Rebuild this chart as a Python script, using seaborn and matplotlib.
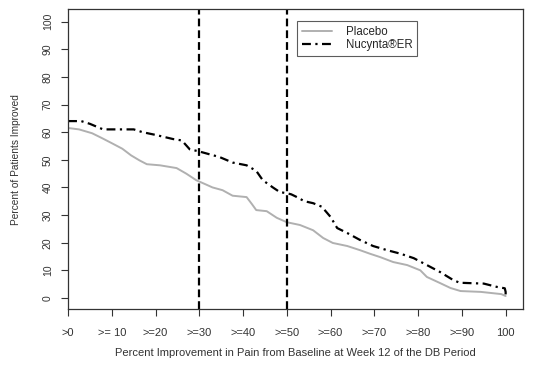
import pandas as pd
import matplotlib
matplotlib.use("Agg")
import matplotlib.pyplot as plt
import seaborn as sns

# Values (percent improvement vs percent of patients)
placebo_x = [0, 2.5, 5.5, 7.8, 10, 12.4, 14.4, 16.3, 18, 21, 24.8, 27, 29.3, 31.6,
             33, 35.3, 37.6, 40.8, 42, 43, 45.4, 47.7, 50, 53, 56, 58.3, 60.5, 63.8,
             66.7, 69, 71.3, 74.3, 77.5, 80.5, 82, 85, 87.4, 89.7, 94.3, 99, 100]
placebo_y = [61.5, 61, 59.6, 57.8, 56, 54, 51.6, 49.8, 48.4, 48, 47, 45, 42.6, 41,
             40, 39, 37, 36.5, 34, 31.8, 31.4, 29, 27.4, 26.4, 24.5, 21.7, 19.9,
             18.8, 17.3, 16, 14.8, 13, 11.9, 10, 7.6, 5.4, 3.6, 2.5, 2.2, 1.4, 0.7]

nucynta_x = [0, 3, 5, 6.5, 8, 15, 17, 20, 24, 26, 27.8, 30, 34.6, 37.6, 40.8, 43,
             44.5, 46.8, 48.4, 50, 51, 52.3, 54, 56, 58, 60, 61.5, 63.8, 66.7, 69.7,
             72.9, 76, 79, 82, 85, 88, 89.5, 91.3, 95, 98, 99.8, 100, 100]
nucynta_y = [64, 64, 63, 62, 61, 61, 60, 59, 57.5, 57, 53.8, 53, 51, 49, 48, 46,
             42.6, 40, 38.3, 37.9, 37.5, 36.5, 35, 34.3, 33, 29.3, 25.3, 23.5, 21,
             18.8, 17.3, 16, 14.4, 11.9, 9.4, 6.5, 5.5, 5.4, 5.2, 4, 3.5, 2.2, 0.8]

cutoffs = [30, 50]
x_ticks = [0, 10, 20, 30, 40, 50, 60, 70, 80, 90, 100]
x_tick_labels = [">0", ">= 10", ">=20", ">=30", ">=40", ">=50", ">=60", ">=70",
                 ">=80", ">=90", "100"]
y_ticks = [0, 10, 20, 30, 40, 50, 60, 70, 80, 90, 100]

df_p = pd.DataFrame({"x": placebo_x, "y": placebo_y})
df_n = pd.DataFrame({"x": nucynta_x, "y": nucynta_y})

sns.set_theme(style="white")
plt.rcParams['font.family'] = ['Liberation Sans', 'DejaVu Sans']

fig = plt.figure(figsize=(5.36, 3.67), dpi=100)
ax = fig.add_axes([0.127, 0.158, 0.849, 0.817])

sns.lineplot(data=df_p, x="x", y="y", ax=ax, color="#b0b0b0", linewidth=1.4,
             sort=False, estimator=None, label="Placebo")
sns.lineplot(data=df_n, x="x", y="y", ax=ax, color="black", linewidth=1.6,
             sort=False, estimator=None, linestyle=(0, (4, 2, 1, 2)),
             label="Nucynta\u00aeER")

for c in cutoffs:
    ax.axvline(c, color="black", linewidth=1.6, linestyle=(0, (3.5, 1.8)))

ax.set_xlim(0, 104)
ax.set_ylim(-4, 104.5)
ax.set_xticks(x_ticks)
ax.set_xticklabels(x_tick_labels, fontsize=8, color="#333333")
ax.set_yticks(y_ticks)
ax.set_yticklabels(y_ticks, fontsize=7.5, rotation=90, va="center", color="#333333")
ax.tick_params(axis="both", direction="out", length=5, width=0.8, color="#333333",
               bottom=True, left=True)
ax.tick_params(axis="x", pad=9)
ax.tick_params(axis="y", pad=6)
for s in ax.spines.values():
    s.set_color("#333333")
    s.set_linewidth(0.9)

ax.set_xlabel("Percent Improvement in Pain from Baseline at Week 12 of the DB Period",
              fontsize=8, color="#333333", labelpad=7)
ax.set_ylabel("Percent of Patients Improved", fontsize=7.3, color="#333333", labelpad=16)

leg = ax.legend(loc="upper left", bbox_to_anchor=(0.502, 0.96), fontsize=8.3,
                frameon=True, fancybox=False, edgecolor="#333333",
                handlelength=2.6, handletextpad=1.2, borderpad=0.45,
                labelspacing=0.05, borderaxespad=0.0)
leg.get_frame().set_linewidth(0.8)

plt.savefig("out.png", dpi=100)
plt.close()
